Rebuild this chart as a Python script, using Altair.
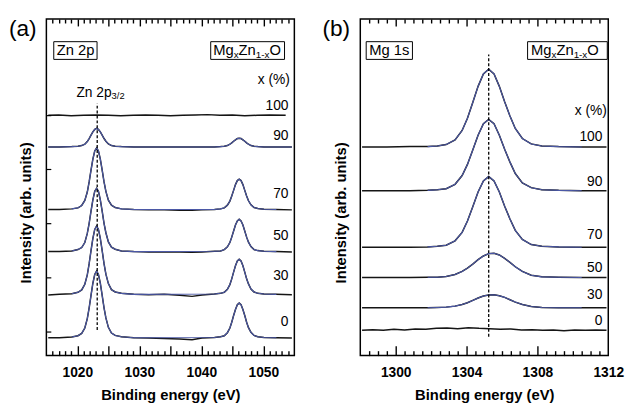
import altair as alt
import pandas as pd
import numpy as np

FONT = "Liberation Sans"
BLACK = "#151515"
BLUE = "#4b58a6"
W, H = 252, 342

# ---------------- Panel (a): Zn 2p ----------------
XA = [1015.3, 1017.1, 1019.1, 1020.1, 1020.7, 1021.2, 1021.6, 1021.9, 1022.2, 1022.5,
      1022.8, 1023.1, 1023.4, 1023.7, 1024.0, 1024.3, 1024.6, 1025.0, 1025.5, 1026.1,
      1027.1, 1029.1, 1031.5, 1034.0, 1036.5, 1038.5, 1040.1, 1042.1, 1043.1, 1043.7,
      1044.2, 1044.6, 1044.9, 1045.2, 1045.5, 1045.8, 1046.1, 1046.4, 1046.7, 1047.0,
      1047.3, 1047.6, 1048.0, 1048.5, 1049.1, 1050.1, 1052.1, 1054.6]
A0 = [5.3, 5.3, 5.5, 5.9, 6.6, 8.2, 11.0, 14.2, 17.9, 21.5,
      24.1, 25.1, 24.1, 21.5, 17.9, 14.2, 11.2, 8.4, 6.7, 6.0,
      5.6, 5.3, 5.2, 5.1, 4.9, 4.7, 5.2, 5.4, 5.6, 5.9,
      6.8, 8.2, 9.9, 11.9, 13.7, 15.1, 15.6, 15.1, 13.7, 11.9,
      9.9, 8.3, 6.9, 6.0, 5.6, 5.4, 5.3, 5.2]
A30 = [18.0, 18.2, 18.4, 18.8, 19.5, 21.2, 24.0, 27.3, 31.2, 34.8,
       37.5, 38.5, 37.5, 34.8, 31.2, 27.3, 24.2, 21.4, 19.6, 18.9,
       18.5, 18.2, 18.1, 18.2, 17.9, 17.6, 18.0, 18.3, 18.5, 18.8,
       19.7, 21.1, 22.8, 24.8, 26.7, 28.1, 28.6, 28.1, 26.7, 24.8,
       22.8, 21.3, 19.8, 18.9, 18.5, 18.3, 18.2, 18.1]
A50 = [30.9, 30.9, 31.1, 31.5, 32.1, 33.6, 36.3, 39.3, 42.9, 46.3,
       48.8, 49.7, 48.8, 46.3, 42.9, 39.3, 36.5, 33.8, 32.2, 31.6,
       31.1, 30.9, 30.8, 30.8, 30.8, 30.7, 30.8, 31.0, 31.1, 31.5,
       32.3, 33.6, 35.2, 37.0, 38.8, 40.0, 40.5, 40.0, 38.8, 37.0,
       35.2, 33.7, 32.4, 31.5, 31.2, 31.0, 30.9, 30.8]
A70 = [43.4, 43.4, 43.6, 43.9, 44.6, 46.1, 48.6, 51.6, 55.1, 58.4,
       60.8, 61.7, 60.8, 58.4, 55.1, 51.6, 48.8, 46.2, 44.7, 44.0,
       43.6, 43.4, 43.3, 43.3, 43.2, 43.2, 43.3, 43.4, 43.6, 43.9,
       44.7, 45.9, 47.4, 49.1, 50.8, 52.0, 52.4, 52.0, 50.8, 49.1,
       47.4, 46.0, 44.8, 44.0, 43.7, 43.5, 43.4, 43.3]
A90 = [62.0, 62.0, 62.1, 62.2, 62.4, 62.8, 63.6, 64.5, 65.5, 66.5,
       67.2, 67.5, 67.2, 66.5, 65.5, 64.5, 63.7, 62.9, 62.4, 62.2,
       62.1, 62.0, 62.0, 62.0, 62.0, 62.0, 62.0, 62.0, 62.1, 62.2,
       62.4, 62.8, 63.2, 63.7, 64.1, 64.5, 64.6, 64.5, 64.1, 63.7,
       63.2, 62.8, 62.4, 62.2, 62.1, 62.0, 62.0, 62.0]
A100_X = [1015.3, 1017, 1019, 1021, 1023, 1025, 1027, 1029, 1031, 1033,
          1035, 1037, 1039, 1041, 1043, 1045, 1047, 1049, 1051, 1053.6]
A100_Y = [71.4, 71.5, 71.3, 71.4, 71.5, 71.4, 71.3, 71.4, 71.5, 71.4,
          71.3, 71.4, 71.5, 71.6, 71.4, 71.5, 71.3, 71.4, 71.5, 71.4]
A_LABELS = ["100", "90", "70", "50", "30", "0"]
A_LABEL_Y = [88.7, 118.7, 177.5, 220.3, 261.5, 307.7]
A_XTICKS = [1020, 1030, 1040, 1050]
A_MINOR = [1016, 1017, 1018, 1019, 1021, 1022, 1023, 1024, 1026, 1027, 1028, 1029,
           1031, 1032, 1033, 1034, 1036, 1037, 1038, 1039, 1041, 1042, 1043, 1044,
           1046, 1047, 1048, 1049, 1051, 1052, 1053, 1054]
A_MAJOR = [1020, 1025, 1030, 1035, 1040, 1045, 1050]
A_DASH = [1023.2, 7.6, 74.9]
A_YTICKS = [71.3, 55.3, 39.2, 23.1, 7.0]

# ---------------- Panel (b): Mg 1s ----------------
XB = [1298.1, 1299.5, 1300.8, 1301.8, 1302.35, 1302.85, 1303.35, 1303.75, 1304.05, 1304.35,
      1304.65, 1304.95, 1305.25, 1305.55, 1305.85, 1306.15, 1306.45, 1306.75, 1307.15, 1307.65,
      1308.25, 1309.2, 1310.5, 1311.9]
B30 = [14.2, 14.2, 14.2, 14.2, 14.3, 14.4, 14.7, 15.2, 15.7, 16.4,
       17.1, 17.7, 18.0, 18.1, 17.8, 17.3, 16.6, 15.9, 15.2, 14.6,
       14.3, 14.2, 14.2, 14.2]
B50 = [23.2, 23.2, 23.2, 23.3, 23.3, 23.5, 24.1, 25.0, 26.0, 27.2,
       28.5, 29.6, 30.3, 30.4, 29.9, 28.9, 27.7, 26.4, 25.0, 23.9,
       23.4, 23.3, 23.2, 23.2]
B70 = [32.2, 32.2, 32.2, 32.3, 32.5, 32.8, 34.1, 36.6, 40.0, 44.2,
       48.6, 51.9, 53.2, 51.9, 48.6, 44.4, 40.6, 37.2, 34.5, 33.0,
       32.5, 32.3, 32.2, 32.2]
B90 = [49.0, 49.0, 49.0, 49.1, 49.3, 49.6, 50.9, 53.5, 56.8, 61.1,
       65.5, 68.9, 70.2, 68.9, 65.5, 61.3, 57.5, 54.1, 51.3, 49.9,
       49.3, 49.1, 49.0, 49.0]
B100 = [62.0, 62.0, 62.1, 62.1, 62.3, 62.7, 64.1, 66.9, 70.5, 75.2,
        80.0, 83.7, 85.1, 83.7, 80.0, 75.4, 71.2, 67.5, 64.5, 62.9,
        62.3, 62.1, 62.0, 62.0]
B0_X = [1298.1, 1298.7, 1299.3, 1299.9, 1300.5, 1301.1, 1301.7, 1302.3, 1302.9, 1303.5,
        1304.1, 1304.7, 1305.3, 1305.9, 1306.5, 1307.1, 1307.7, 1308.3, 1308.9, 1309.5,
        1310.1, 1310.7, 1311.3, 1311.9]
B0_Y = [7.5, 7.7, 7.5, 7.8, 7.6, 7.9, 7.8, 8.1, 8.2, 8.0,
        8.3, 8.1, 8.0, 7.8, 7.9, 7.6, 7.7, 7.5, 7.6, 7.4,
        7.6, 7.5, 7.6, 7.5]
B_LABELS = ["100", "90", "70", "50", "30", "0"]
B_LABEL_Y = [120.0, 165.3, 219.3, 252.7, 280.0, 307.0]
B_XTICKS = [1300, 1304, 1308, 1312]
B_MINOR = [1298.5, 1299.0, 1299.5, 1300.5, 1301.0, 1301.5, 1302.0, 1302.5, 1303.0,
           1303.5, 1304.5, 1305.0, 1305.5, 1306.0, 1306.5, 1307.0, 1307.5, 1308.5,
           1309.0, 1309.5, 1310.0, 1310.5, 1311.0, 1311.5]
B_MAJOR = [1300, 1304, 1308]
B_DASH = [1305.25, 5.6, 89.5]


def series_df(x, y, name, width, windows=None):
    rows = []
    for e, v in zip(x, y):
        if windows is None or any(a <= e <= b for a, b in windows):
            rows.append({"e": float(e), "v": float(v), "s": name, "w": width})
    return pd.DataFrame(rows)


def one_row():
    return pd.DataFrame({"k": [0]})


def text(t, x, y, size, align="left", weight="normal", angle=0):
    return alt.Chart(pd.DataFrame({"t": [t]})).mark_text(
        align=align, baseline="middle", font=FONT, fontSize=size,
        fontWeight=weight, angle=angle, color="black"
    ).encode(x=alt.value(x), y=alt.value(y), text="t:N")


def box(x0, x1, y0, y1):
    return alt.Chart(one_row()).mark_rect(
        fill="white", stroke="black", strokeWidth=1
    ).encode(x=alt.value(x0), x2=alt.value(x1), y=alt.value(y0), y2=alt.value(y1))


def mgzno(x0, yc):
    parts = []
    x = x0
    widths = {"Mg": 20.8, "x": 5.0, "Zn": 17.5, "1-x": 13.9, "O": 11.7}
    for t, big in [("Mg", True), ("x", False), ("Zn", True), ("1-x", False), ("O", True)]:
        if big:
            parts.append(text(t, x, yc, 15))
        else:
            parts.append(text(t, x, yc + 4.5, 10))
        x += widths[t]
    return parts


def panel(xdom, xticks, curves, fits, dash, minor, major, labels, label_y,
          tag, box1, box1_text, box2, mg_x, xpct, yticks, extra):
    xs = alt.Scale(domain=xdom, nice=False, zero=False)
    ys = alt.Scale(domain=[0, 100], nice=False, zero=False)
    X = alt.X("e:Q", scale=xs, axis=None)
    Y = alt.Y("v:Q", scale=ys, axis=None)
    SW = alt.StrokeWidth("w:Q", scale=None, legend=None)
    dummy = pd.DataFrame({"e": [float(xdom[0])], "v": [50.0]})

    layers = []
    data = pd.concat(curves, ignore_index=True)
    fit = pd.concat(fits, ignore_index=True)
    layers.append(alt.Chart(data).mark_line(color=BLACK).encode(
        x=X, y=Y, detail="s:N", strokeWidth=SW))
    layers.append(alt.Chart(fit).mark_line(color=BLUE).encode(
        x=X, y=Y, detail="s:N", strokeWidth=SW))
    ddf = pd.DataFrame({"e": [dash[0]], "v": [dash[1]], "v2": [dash[2]]})
    layers.append(alt.Chart(ddf).mark_rule(color="black", strokeWidth=1.3,
                                           strokeDash=[3, 2]).encode(
        x=X, y=Y, y2="v2:Q"))

    # axis with labels and title only (bottom)
    label_axis = alt.Axis(orient="bottom", values=xticks, ticks=False, domain=False,
                          grid=False, labelFont=FONT, labelFontSize=14,
                          labelFontWeight="bold", labelPadding=10, labelFlush=False,
                          labelOverlap=False, format="d", title="Binding energy (eV)",
                          titleFont=FONT, titleFontSize=15, titleFontWeight="bold",
                          titlePadding=9, titleColor="black", labelColor="black")
    layers.append(alt.Chart(dummy).mark_point(opacity=0).encode(
        x=alt.X("e:Q", scale=xs, axis=label_axis), y=Y))
    # inward tick marks: axes pulled across the plot with a negative offset
    # "top" axis moved to the bottom edge (ticks point up), "bottom" axis moved to the top edge
    for orient, sizes in (("top", (5, 10)), ("bottom", (4, 7))):
        for vals, size in [(minor, sizes[0]), (major, sizes[1])]:
            ax = alt.Axis(orient=orient, offset=-H, values=vals, ticks=True,
                          tickSize=size, tickWidth=1.4, tickColor="black",
                          labels=False, domain=False, grid=False, title="")
            layers.append(alt.Chart(dummy).mark_point(opacity=0).encode(
                x=alt.X("e:Q", scale=xs, axis=ax), y=Y))
    if yticks:
        layers.append(alt.Chart(pd.DataFrame({"v": yticks})).mark_rule(
            color="black", strokeWidth=1.2).encode(y=Y, x=alt.value(0), x2=alt.value(5)))
    # annotations
    layers.append(text(tag[0], tag[1], tag[2], 23))
    layers.append(text("Intensity (arb. units)", tag[3], 197, 15, align="center",
                       weight="bold", angle=270))
    layers.append(box(*box1))
    layers.append(text(box1_text, box1[0] + 3, 32, 15))
    layers.append(box(*box2))
    layers += mgzno(mg_x, 32)
    layers.append(text("x (%)", xpct[0], xpct[1], 14, align="right"))
    for lab, ly in zip(labels, label_y):
        layers.append(text(lab, 246, ly, 14, align="right"))
    layers += extra
    return alt.layer(*layers).properties(width=W, height=H).resolve_axis(x="independent")


a_curves = [series_df(XA, A0, "0", 1.5), series_df(XA, A30, "30", 1.5),
            series_df(XA, A50, "50", 1.5), series_df(XA, A70, "70", 1.5),
            series_df(XA, A90, "90", 1.5), series_df(A100_X, A100_Y, "100", 1.5)]
win_a = [(1019.0, 1029.5), (1042.0, 1052.5)]
a_fits = [series_df(XA, A0, "0", 1.1, win_a), series_df(XA, A30, "30", 1.1, win_a),
          series_df(XA, A50, "50", 1.1, win_a), series_df(XA, A70, "70", 1.1, win_a),
          series_df(XA, A90, "90", 1.1)]
a_extra = [text("Zn 2p", 30.5, 75, 14), text("3/2", 66.3, 78.5, 9.5)]

pa = panel([1015, 1055], A_XTICKS, a_curves, a_fits, A_DASH,
           A_MINOR, A_MAJOR,
           A_LABELS, A_LABEL_Y, ("(a)", -38, 10, -20.5),
           (7.5, 51.5, 23, 41), "Zn 2p", (167, 242, 23, 41), 169.5,
           (247.5, 62), A_YTICKS, a_extra)

b_curves = [series_df(B0_X, B0_Y, "0", 1.5), series_df(XB, B30, "30", 1.5),
            series_df(XB, B50, "50", 1.5), series_df(XB, B70, "70", 1.5),
            series_df(XB, B90, "90", 1.5), series_df(XB, B100, "100", 1.5)]
win_b = [(1301.0, 1310.5)]
b_fits = [series_df(XB, B30, "30", 1.1, win_b), series_df(XB, B50, "50", 1.1, win_b),
          series_df(XB, B70, "70", 1.1, win_b), series_df(XB, B90, "90", 1.1, win_b),
          series_df(XB, B100, "100", 1.1, win_b)]
pb = panel([1298, 1312], B_XTICKS, b_curves, b_fits, B_DASH,
           B_MINOR, B_MAJOR,
           B_LABELS, B_LABEL_Y, ("(b)", -38.5, 10, -19.5),
           (6, 53, 23, 41), "Mg 1s", (170, 251, 23, 41), 173.5,
           (250.5, 93.3), [], [])

chart = alt.hconcat(pa, pb, spacing=25).properties(
    padding={"left": 0, "top": 6, "right": 0, "bottom": 0}
).configure_view(stroke="black", strokeWidth=1.5).configure_axis(grid=False)

chart.save("out.html", embed_options={"renderer": "svg", "actions": False})
